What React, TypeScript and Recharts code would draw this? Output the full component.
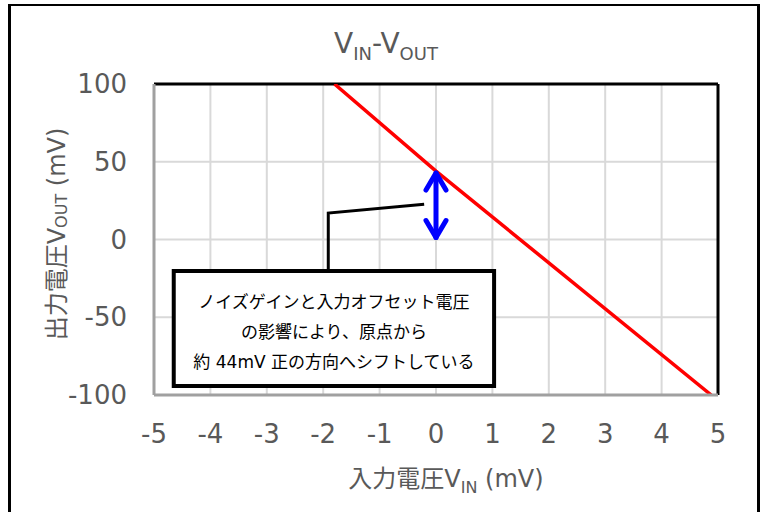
import React from "react";
import {
  LineChart,
  Line,
  XAxis,
  YAxis,
  CartesianGrid,
  ReferenceLine,
  ReferenceArea,
} from "recharts";

// ---- data ----
const vinValues = [-1.8, 0, 4.88];
const voutValues = [100, 44, -100];
const xTicks = [-5, -4, -3, -2, -1, 0, 1, 2, 3, 4, 5];
const yTicks = [-100, -50, 0, 50, 100];

// callout annotation (data coordinates)
const calloutX = [-1.91, -1.91, -0.21];
const calloutY = [-20.3, 17, 22.6];
const boxX = [-4.65, 1.03];
const boxY = [-94.2, -20.3];
const offsetX = 0;
const offsetY = [0, 44];
const boxLines = [
  "ノイズゲインと入力オフセット電圧",
  "の影響により、原点から",
  "約 44mV 正の方向へシフトしている",
];

const lineData = vinValues.map((x, i) => ({ x, y: voutValues[i] }));
const calloutData = calloutX.map((x, i) => ({ x, y: calloutY[i] }));

const FONT = "'DejaVu Sans', 'Noto Sans CJK JP', sans-serif";
const GRAY = "#595959";

const ArrowShape = (p: any) => {
  const { x1, y1, x2, y2 } = p;
  const top = Math.min(y1, y2);
  const bot = Math.max(y1, y2);
  const x = x1;
  const hw = 10;
  const hl = 19;
  return (
    <g stroke="#0000FF" strokeWidth={5} strokeLinecap="round" strokeLinejoin="round" fill="none">
      <line x1={x} y1={top + 2} x2={x} y2={bot - 2} />
      <polyline points={`${x - hw},${top + hl} ${x},${top + 2} ${x + hw},${top + hl}`} />
      <polyline points={`${x - hw},${bot - hl} ${x},${bot - 2} ${x + hw},${bot - hl}`} />
    </g>
  );
};

const BoxText = (props: any) => {
  const vb = props.viewBox || {};
  const cx = vb.x + vb.width / 2;
  const cy = vb.y + vb.height / 2;
  return (
    <g>
      {boxLines.map((t, i) => (
        <text
          key={i}
          x={cx}
          y={cy + (i - 1) * 30 + 3}
          textAnchor="middle"
          dominantBaseline="central"
          fontFamily={FONT}
          fontSize={17}
          fill="#000"
        >
          {t}
        </text>
      ))}
    </g>
  );
};

export default function App() {
  return (
    <div
      style={{
        position: "absolute",
        left: 0,
        top: 0,
        width: 763,
        height: 512,
        overflow: "hidden",
        background: "#fff",
      }}
    >
      <div
        style={{
          position: "absolute",
          left: 8,
          top: 4,
          width: 746,
          height: 530,
          borderTop: "2px solid #000",
          borderLeft: "3px solid #000",
          borderRight: "3px solid #000",
        }}
      />
      <div style={{ position: "absolute", left: 0, top: 0 }}>
        <LineChart
          width={763}
          height={512}
          margin={{ top: 84, right: 45, left: 0, bottom: 0 }}
        >
          <CartesianGrid stroke="#d9d9d9" strokeWidth={2} />
          <XAxis
            type="number"
            dataKey="x"
            domain={[-5, 5]}
            ticks={xTicks}
            interval={0}
            allowDataOverflow
            height={117}
            tickSize={0}
            tickLine={false}
            tickMargin={30}
            axisLine={{ stroke: "#a0a0a0", strokeWidth: 3 }}
            tick={{ fill: GRAY, fontSize: 26, fontFamily: FONT }}
          />
          <YAxis
            type="number"
            dataKey="y"
            domain={[-100, 100]}
            ticks={yTicks}
            interval={0}
            allowDataOverflow
            width={154}
            tickSize={0}
            tickLine={false}
            tickMargin={27}
            axisLine={{ stroke: "#a0a0a0", strokeWidth: 3 }}
            tick={{ fill: GRAY, fontSize: 26, fontFamily: FONT }}
          />
          <ReferenceLine y={100} stroke="#000" strokeWidth={3} />
          <ReferenceLine x={5} stroke="#000" strokeWidth={3} />
          <ReferenceArea
            x1={boxX[0]}
            x2={boxX[1]}
            y1={boxY[0]}
            y2={boxY[1]}
            fill="#fff"
            fillOpacity={1}
            stroke="#000"
            strokeWidth={4}
            label={(p: any) => <BoxText {...p} />}
          />
          <Line
            data={calloutData}
            dataKey="y"
            stroke="#000"
            strokeWidth={3}
            dot={false}
            activeDot={false}
            isAnimationActive={false}
            type="linear"
          />
          <Line
            data={lineData}
            dataKey="y"
            stroke="#FF0000"
            strokeWidth={3.5}
            dot={false}
            activeDot={false}
            isAnimationActive={false}
            type="linear"
          />
          <ReferenceLine
            segment={[
              { x: offsetX, y: offsetY[0] },
              { x: offsetX, y: offsetY[1] },
            ]}
            stroke="#0000FF"
            shape={(p: any) => <ArrowShape {...p} />}
          />
        </LineChart>
      </div>
      <svg
        width={763}
        height={512}
        style={{ position: "absolute", left: 0, top: 0, pointerEvents: "none" }}
      >
        <text x={386} y={53} textAnchor="middle" fontFamily={FONT} fontSize={28} fill={GRAY}>
          V
          <tspan fontSize={18} dy={7}>IN</tspan>
          <tspan fontSize={28} dy={-7}>-V</tspan>
          <tspan fontSize={18} dy={7}>OUT</tspan>
        </text>
        <text x={446} y={487} textAnchor="middle" fontFamily={FONT} fontSize={24} fill={GRAY}>
          入力電圧V
          <tspan fontSize={16} dy={6}>IN</tspan>
          <tspan fontSize={24} dy={-6}> (mV)</tspan>
        </text>
        <text
          x={65}
          y={234}
          transform="rotate(-90 65 234)"
          textAnchor="middle"
          fontFamily={FONT}
          fontSize={24}
          fill={GRAY}
        >
          出力電圧V
          <tspan fontSize={16} dy={2}>OUT</tspan>
          <tspan fontSize={24} dy={-2}> (mV)</tspan>
        </text>
      </svg>
    </div>
  );
}
